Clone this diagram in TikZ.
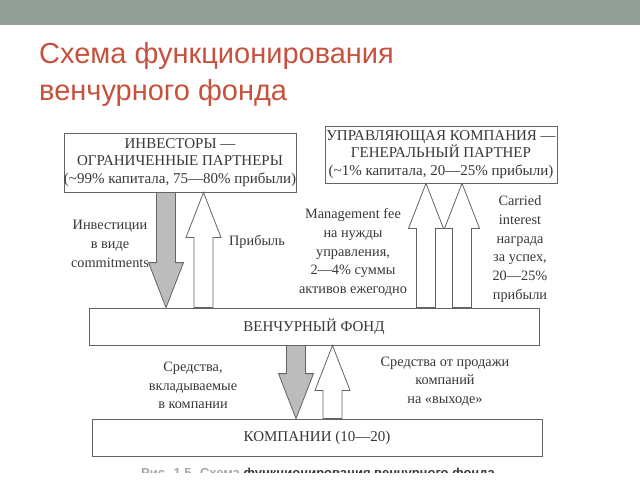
\documentclass[tikz,border=0pt]{standalone}
\usepackage{fontspec}
\setmainfont{Liberation Serif}
\newfontfamily\titlefont{Liberation Sans}
\usetikzlibrary{positioning,calc}
\definecolor{slidebar}{RGB}{147,160,152}
\definecolor{slidetitle}{RGB}{198,82,62}
\definecolor{ink}{RGB}{55,55,55}
\definecolor{boxline}{RGB}{100,100,100}
\definecolor{arrowgray}{RGB}{188,188,188}
\newcommand{\fatarrow}[3]{
	\filldraw[fat_arrow, fill=#3] ($(#1)+(-9.5pt,0pt)$) -- ($(#2)!45pt!(#1)+(-9.5pt,0pt)$) -- ($(#2)!45pt!(#1)+(-17.5pt,0pt)$) -- (#2) -- ($(#2)!45pt!(#1)+(17.5pt,0pt)$) -- ($(#2)!45pt!(#1)+(9.5pt,0pt)$) -- ($(#1)+(9.5pt,0pt)$) -- cycle;
}
\begin{document}
\begin{tikzpicture}[x=1pt,y=-1pt]
		\tikzstyle{box}=[draw=boxline, line width=0.8pt, align=center, text=ink, inner sep=0pt, font=\fontsize{15}{17.5}\selectfont];
		\tikzstyle{lbl}=[align=center, text=ink, font=\fontsize{14.3}{18.7}\selectfont];
		\tikzstyle{fat_arrow}=[draw=boxline, line width=0.8pt, line join=miter];
		\tikzstyle{title_txt}=[anchor=base west, inner sep=0pt, text=slidetitle, font=\titlefont\fontsize{29}{35}\selectfont];

		\useasboundingbox (0,0) rectangle (640,480);
		\fill[slidebar] (0,0) rectangle (640,25);
		\node[title_txt] (title_a) at (39,63) {Схема функционирования};
		\node[title_txt] (title_b) at (39,100) {венчурного фонда};

		\node[box, minimum width=230, minimum height=59] (inv) at (180,162.5) {ИНВЕСТОРЫ —\\ОГРАНИЧЕННЫЕ ПАРТНЕРЫ\\(\textasciitilde99\% капитала, 75—80\% прибыли)};
		\node[box, minimum width=232, minimum height=57] (mgr) at (441,154.5) {УПРАВЛЯЮЩАЯ КОМПАНИЯ —\\ГЕНЕРАЛЬНЫЙ ПАРТНЕР\\(\textasciitilde1\% капитала, 20—25\% прибыли)};
		\node[box, minimum width=450, minimum height=37] (fund) at (314,326.5) {ВЕНЧУРНЫЙ ФОНД};
		\node[box, minimum width=450, minimum height=37] (comp) at (317,437.5) {КОМПАНИИ (10—20)};

		% investors <-> fund
		\coordinate (inv_out) at (166,0 |- inv.south);
		\coordinate (inv_in) at (166,0 |- fund.north);
		\fatarrow{inv_out}{inv_in}{arrowgray}
		\coordinate (prof_out) at (203.5,0 |- fund.north);
		\coordinate (prof_in) at (203.5,0 |- inv.south);
		\fatarrow{prof_out}{prof_in}{white}

		% fund -> manager
		\coordinate (fee_out) at (426,0 |- fund.north);
		\coordinate (fee_in) at (426,0 |- mgr.south);
		\fatarrow{fee_out}{fee_in}{white}
		\coordinate (carry_out) at (462,0 |- fund.north);
		\coordinate (carry_in) at (462,0 |- mgr.south);
		\fatarrow{carry_out}{carry_in}{white}

		% fund <-> companies
		\coordinate (cash_out) at (296,0 |- fund.south);
		\coordinate (cash_in) at (296,0 |- comp.north);
		\fatarrow{cash_out}{cash_in}{arrowgray}
		\coordinate (exit_out) at (332.5,0 |- comp.north);
		\coordinate (exit_in) at (332.5,0 |- fund.south);
		\fatarrow{exit_out}{exit_in}{white}

		\node[lbl] (inv_lbl) at (110,244) {Инвестиции\\в виде\\commitments};
		\node[lbl] (prof_lbl) at (257,242) {Прибыль};
		\node[lbl] (fee_lbl) at (353,252.5) {Management fee\\на нужды\\управления,\\2—4\% суммы\\активов ежегодно};
		\node[lbl] (carry_lbl) at (520,249) {Carried\\interest\\награда\\за успех,\\20—25\%\\прибыли};
		\node[lbl] (cash_lbl) at (193,385.5) {Средства,\\вкладываемые\\в компании};
		\node[lbl] (exit_lbl) at (445,381.5) {Средства от продажи\\компаний\\на «выходе»};

		% caption, cut off by the slide
		\begin{scope}
			\clip (0,460) rectangle (640,472);
			\node[anchor=base, inner sep=0pt, font=\titlefont\bfseries\fontsize{13}{15}\selectfont, text=black!80] (caption) at (318,477.5) {\textcolor{black!35}{Рис. 1.5. Схема} функционирования венчурного фонда};
		\end{scope}
	\end{tikzpicture}
\end{document}
